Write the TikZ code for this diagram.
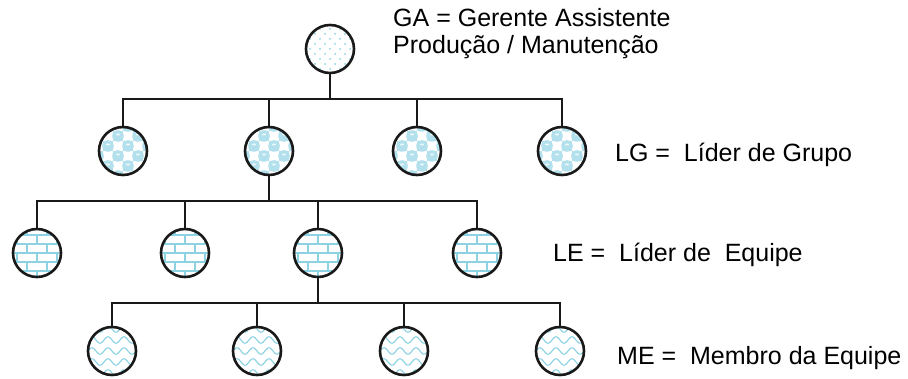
\documentclass[tikz,border=0pt]{standalone}
\usepackage{fontspec}
\setmainfont{Liberation Sans}
\usetikzlibrary{positioning}
\definecolor{patcyan}{RGB}{140,210,226}
\definecolor{lgfill}{RGB}{178,224,236}

\tikzset{
	unit/.style={circle, draw=black!90, line width=2.6pt, minimum size=48pt, inner sep=0pt},
	pat/.style={draw=patcyan, line width=1.1pt},
	% dotted
	ga/.style={unit, path picture={
		\begin{scope}[shift={(path picture bounding box.center)}]
			\foreach \i in {-30,-20,...,30}
				\foreach \j in {-30,-20,...,30} {
					\fill[patcyan] (\i,\j) circle (1);
					\fill[patcyan] (\i+5,\j+5) circle (1);
				}
		\end{scope}}},
	% bubbles
	lg/.style={unit, fill=white, path picture={
		\begin{scope}[shift={(path picture bounding box.center)}]
			\foreach \i in {-40,-20,...,20}
				\foreach \j in {-40,-20,...,20} {
					\fill[lgfill] (\i+10,\j) rectangle ++(10,10);
					\fill[lgfill] (\i,\j+10) rectangle ++(10,10);
					\fill[lgfill] (\i+15,\j+5) circle (5.8);
					\fill[lgfill] (\i+5,\j+15) circle (5.8);
					\fill[white!75!lgfill] (\i+15,\j+3.5) ellipse (2.2 and 1);
					\fill[white!75!lgfill] (\i+5,\j+13.5) ellipse (2.2 and 1);
				}
		\end{scope}}},
	% bricks
	le/.style={unit, path picture={
		\begin{scope}[shift={(path picture bounding box.center)}]
			\foreach \j in {-3,...,2} {
				\draw[pat] (-30,\j*9) -- (30,\j*9);
				\foreach \i in {-2,...,1}
					\draw[pat] ({\i*20+mod(abs(\j),2)*10}, \j*9) -- ++(0,9);
			}
		\end{scope}}},
	% waves
	me/.style={unit, path picture={
		\begin{scope}[shift={(path picture bounding box.center)}]
			\foreach \j in {-22,-11,...,22}
				\draw[pat] plot[domain=-30:30, samples=61] (\x, {\j+3.2*sin(\x*22.5)});
		\end{scope}}},
	legend/.style={anchor=base west, inner sep=0pt, font=\fontsize{25}{27}\selectfont},
	link/.style={line width=2.6pt, black!90}
}

\begin{document}
\begin{tikzpicture}[x=1pt, y=-1pt]
		\useasboundingbox (0,0) rectangle (908,379);

		\node[ga] (ga) at (330,49) {};

		\node[lg] (lg1) at (123,151) {};
		\node[lg] (lg2) at (269,151) {};
		\node[lg] (lg3) at (417,151) {};
		\node[lg] (lg4) at (562,151) {};

		\node[le] (le1) at (37,253) {};
		\node[le] (le2) at (185,253) {};
		\node[le] (le3) at (318,253) {};
		\node[le] (le4) at (477,253) {};

		\node[me] (me1) at (112,351) {};
		\node[me] (me2) at (257,351) {};
		\node[me] (me3) at (404,351) {};
		\node[me] (me4) at (560,351) {};

		\coordinate (busA) at (0,99);
		\coordinate (busB) at (0,201);
		\coordinate (busC) at (0,303);

		% GA -> LG
		\draw[link] (ga.south) -- (ga |- busA);
		\draw[link] (lg1.north) -- (lg1 |- busA) -- (lg4 |- busA) -- (lg4.north);
		\foreach \n in {lg2,lg3} \draw[link] (\n.north) -- (\n |- busA);

		% LG -> LE
		\draw[link] (lg2.south) -- (lg2 |- busB);
		\draw[link] (le1.north) -- (le1 |- busB) -- (le4 |- busB) -- (le4.north);
		\foreach \n in {le2,le3} \draw[link] (\n.north) -- (\n |- busB);

		% LE -> ME
		\draw[link] (le3.south) -- (le3 |- busC);
		\draw[link] (me1.north) -- (me1 |- busC) -- (me4 |- busC) -- (me4.north);
		\foreach \n in {me2,me3} \draw[link] (\n.north) -- (\n |- busC);

		\node[legend] (gaText) at (393,27) {GA = Gerente Assistente};
		\node[legend] (gaSub) at (393,54) {Produção / Manutenção};
		\node[legend] (lgText) at (615,162) {LG =\ \ Líder de Grupo};
		\node[legend] (leText) at (553,262) {LE =\ \ Líder de\ \ Equipe};
		\node[legend] (meText) at (617,365) {ME =\ \ Membro da Equipe};
	\end{tikzpicture}
\end{document}
